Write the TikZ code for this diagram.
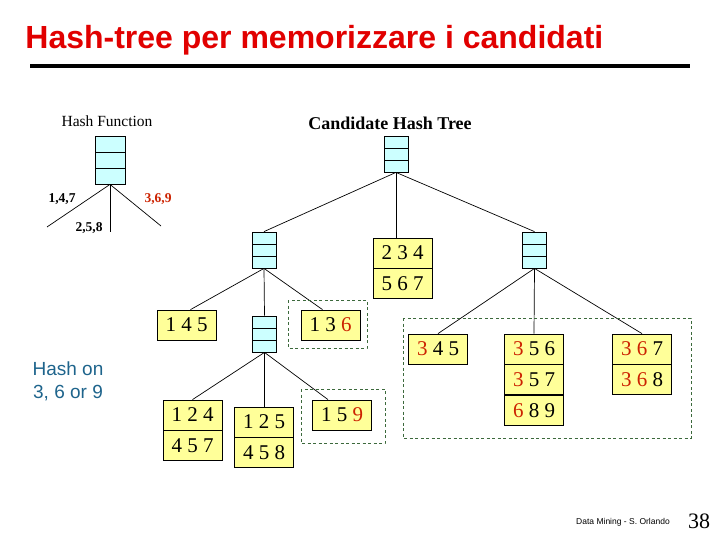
\documentclass[tikz,border=0pt]{standalone}
\usepackage{fontspec}
\setmainfont{Liberation Serif}
\setsansfont{Liberation Sans}
\usepackage{tikz}
\usetikzlibrary{positioning,calc}

\definecolor{hashcyan}{RGB}{204,255,255}
\definecolor{leafyellow}{RGB}{255,255,153}
\definecolor{groupgreen}{RGB}{60,105,60}
\definecolor{keyred}{RGB}{204,34,0}
\definecolor{titlered}{RGB}{225,0,0}
\definecolor{noteblue}{RGB}{30,100,140}

\newcommand{\hkey}[1]{\textcolor{keyred}{#1}}

\begin{document}
\begin{tikzpicture}[x=1pt, y=-1pt, line width=0.8pt,
  hashnode/.style={draw, fill=hashcyan, minimum width=24pt, minimum height=36pt, inner sep=0pt,
    path picture={\foreach \f in {1,2}
      \draw ($(path picture bounding box.north west)!\f/3!(path picture bounding box.south west)$) --
            ($(path picture bounding box.north east)!\f/3!(path picture bounding box.south east)$);}},
  leaf/.style={draw, fill=leafyellow, minimum width=59pt, minimum height=30pt, inner sep=0pt,
    font=\fontsize{21}{24}\selectfont},
  groupbox/.style={draw=groupgreen, dash pattern=on 3pt off 2.5pt},
  branchlbl/.style={font=\bfseries\fontsize{13.5}{16}\selectfont},
  edge/.style={line width=0.7pt}
]
\useasboundingbox (0,0) rectangle (720,540);

% title and rule
\node[anchor=base west, inner sep=0pt, text=titlered, font=\sffamily\bfseries\fontsize{32}{36}\selectfont]
  (title) at (25,49) {Hash-tree per memorizzare i candidati};
\draw[line width=4pt] (30,66) -- (690,66);

% hash function
\node[font=\fontsize{15.5}{18}\selectfont] (hflbl) at (107,121) {Hash Function};
\node[hashnode, minimum width=30pt, minimum height=48pt] (hf) at (110,160) {};
\coordinate (hfa) at (47,227);
\coordinate (hfb) at (110,232);
\coordinate (hfc) at (161,226);
\draw[edge] (hf.south) -- (hfa);
\draw[edge] (hf.south) -- (hfb);
\draw[edge] (hf.south) -- (hfc);
\node[branchlbl] (b147) at (62,199) {1,4,7};
\node[branchlbl, text=keyred] (b369) at (158,199) {3,6,9};
\node[branchlbl] (b258) at (89,228) {2,5,8};

% candidate hash tree
\node[font=\bfseries\fontsize{18}{22}\selectfont] (treelbl) at (390,123) {Candidate Hash Tree};
\node[hashnode] (root) at (396,154) {};
\node[hashnode] (L) at (264,250) {};
\node[hashnode] (R) at (534.5,250) {};
\node[leaf] (n234) at (402.5,253) {2 3 4};
\node[leaf, below=0pt of n234] (n567) {5 6 7};

% under L
\node[leaf] (n145) at (186.5,325) {1 4 5};
\node[hashnode] (LM) at (264.5,334) {};
\node[leaf] (n136) at (330.5,325) {1 3 \hkey{6}};

% under LM
\node[leaf] (n124) at (192.5,415) {1 2 4};
\node[leaf, below=0pt of n124] (n457) {4 5 7};
\node[leaf] (n125) at (264,422) {1 2 5};
\node[leaf, below=0pt of n125] (n458) {4 5 8};
\node[leaf] (n159) at (342,415) {1 5 \hkey{9}};

% under R
\node[leaf] (n345) at (438,349) {\hkey{3} 4 5};
\node[leaf] (n356) at (534,349) {\hkey{3} 5 6};
\node[leaf, below=0pt of n356] (n357) {\hkey{3} 5 7};
\node[leaf, below=0pt of n357] (n689) {\hkey{6} 8 9};
\node[leaf] (n367) at (642,349) {\hkey{3} \hkey{6} 7};
\node[leaf, below=0pt of n367] (n368) {\hkey{3} \hkey{6} 8};

% edges
\draw[edge] (root.south) -- (L.north);
\draw[edge] (root.south) -- (root.south |- n234.north);
\draw[edge] (root.south) -- (R.north);
\draw[edge] (L.south) -- ([xshift=4pt]n145.north);
\draw[edge] (L.south) -- (LM.north);
\draw[edge] (L.south) -- ([xshift=-8pt]n136.north);
\draw[edge] (LM.south) -- (n124.north);
\draw[edge] (LM.south) -- (LM.south |- n125.north);
\draw[edge] (LM.south) -- ([xshift=-14pt]n159.north);
\draw[edge] (R.south) -- (n345.north);
\draw[edge] (R.south) -- (n356.north);
\draw[edge] (R.south) -- (n367.north);

% dashed groups
\draw[groupbox] (288,300) rectangle (367,348);
\draw[groupbox] (301,389) rectangle (385,443);
\draw[groupbox] (403,318) rectangle (691,438);

% note and footer
\node[align=center, text=noteblue, font=\sffamily\fontsize{19}{23}\selectfont] (note) at (68,381)
  {Hash on\\3, 6 or 9};
\node[font=\sffamily\fontsize{8.5}{10}\selectfont] (footer) at (623,522) {Data Mining - S. Orlando};
\node[font=\fontsize{22}{26}\selectfont] (pagenum) at (699,521) {38};
\end{tikzpicture}
\end{document}
